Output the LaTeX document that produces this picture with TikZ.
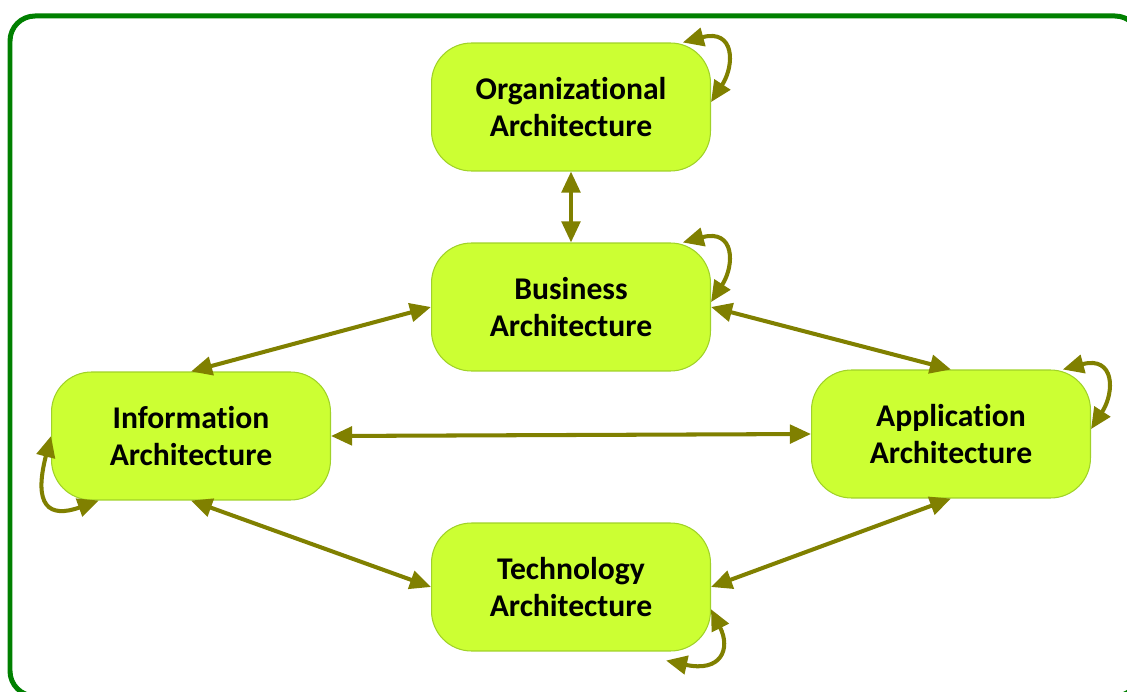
\documentclass[tikz,border=0pt]{standalone}
\usepackage{fontspec}
\setmainfont{Carlito}[Ligatures=NoCommon]
\usetikzlibrary{arrows.meta,calc}
\definecolor{lima}{RGB}{204,255,51}
\definecolor{limaborda}{RGB}{160,210,40}
\definecolor{oliva}{RGB}{128,128,0}
\definecolor{moldura}{RGB}{0,128,0}
\begin{document}
\begin{tikzpicture}[x=0.02cm, y=0.02cm]
\tikzstyle{caixa}=[draw=limaborda, fill=lima, line width=0.6pt, rounded corners=0.8cm, minimum width=5.58cm, minimum height=2.56cm, align=center, font=\fontsize{18}{21.6}\selectfont\bfseries]
\tikzstyle{seta}=[draw=oliva, line width=2.3pt, {Triangle[length=12pt,width=10.5pt]}-{Triangle[length=12pt,width=10.5pt]}]
\useasboundingbox (0,0) rectangle (1127,691);
\clip (0,0) rectangle (1127,691);
\draw[moldura, line width=0.1cm, rounded corners=0.5cm] (10,675) rectangle (1140,-5);
\node[caixa] (org) at (571,584) {Organizational\\Architecture};
\node[caixa] (bus) at (571,384) {Business\\Architecture};
\node[caixa] (info) at (191,255) {Information\\Architecture};
\node[caixa] (app) at (951,257) {Application\\Architecture};
\node[caixa] (tech) at (571,104) {Technology\\Architecture};
\foreach \a/\b in {org.south/bus.north, bus.west/info.north, bus.east/app.north, info.east/app.west, info.south/tech.west, app.south/tech.east}
\draw[seta] (\a)--(\b);
\foreach \n in {org, bus, app}
\draw[seta] (\n.30) .. controls +(52,14) and +(24,37) .. (\n.2);
\draw[seta] (info.west) .. controls +(-18,-70) and +(-50,-18) .. (info.215);
\draw[seta] (tech.351) .. controls +(20,-40) and +(55,-12) .. ($(tech.south east)+(-45,-9)$);
\end{tikzpicture}
\end{document}
